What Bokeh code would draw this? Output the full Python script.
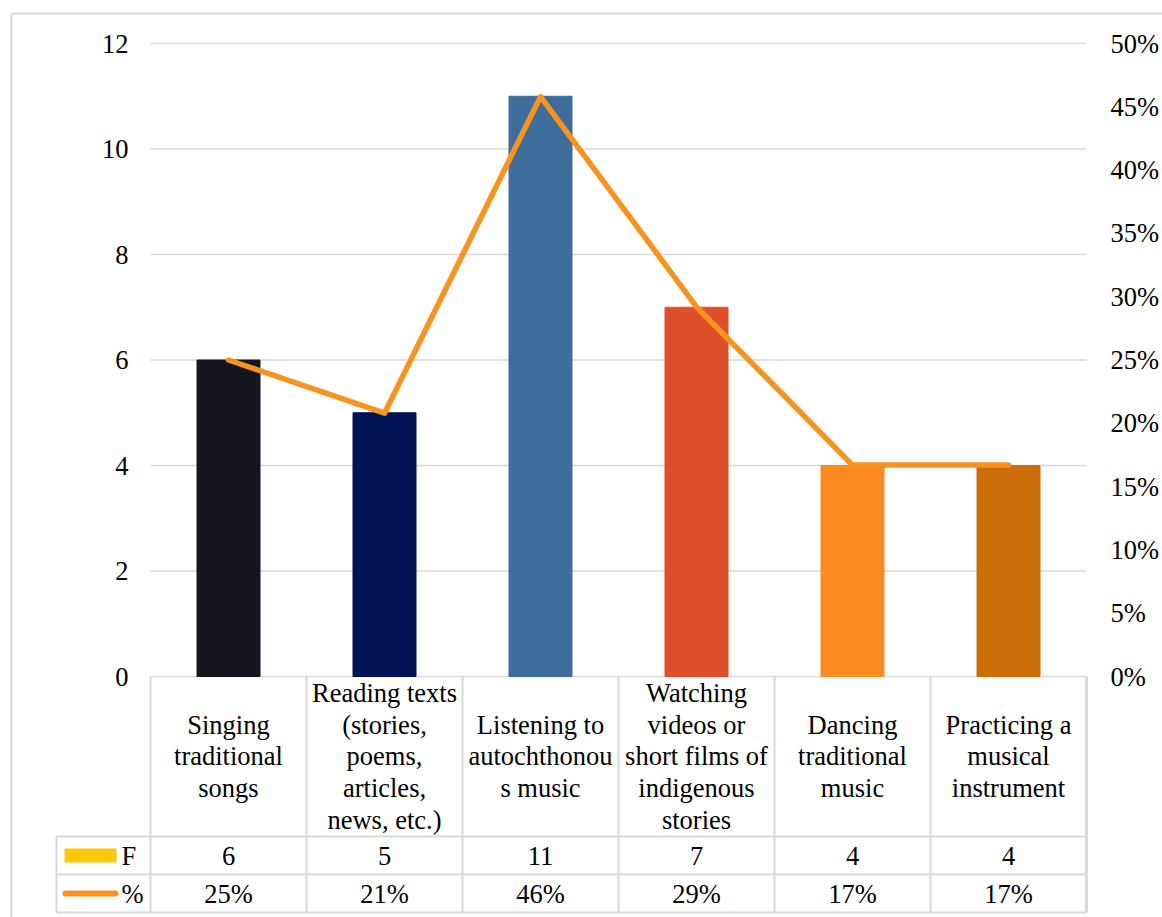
from bokeh.plotting import figure
from bokeh.models import (Range1d, LinearAxis, FixedTicker, NumeralTickFormatter,
                          ColumnDataSource)
from bokeh.core.properties import value
from bokeh.embed import file_html
from bokeh.resources import INLINE

# ---------------- data ----------------
categories = ["Singing traditional songs",
              "Reading texts (stories, poems, articles, news, etc.)",
              "Listening to autochthonous music",
              "Watching videos or short films of indigenous stories",
              "Dancing traditional music",
              "Practicing a musical instrument"]
category_labels = ["Singing\ntraditional\nsongs",
                   "Reading texts\n(stories,\npoems,\narticles,\nnews, etc.)",
                   "Listening to\nautochthonou\ns music",
                   "Watching\nvideos or\nshort films of\nindigenous\nstories",
                   "Dancing\ntraditional\nmusic",
                   "Practicing a\nmusical\ninstrument"]
freq = [6, 5, 11, 7, 4, 4]
pct = [25.0, 20.8, 45.8, 29.2, 16.7, 16.7]
bar_colors = ["#15151F", "#011255", "#3E6C9B", "#E04F2B", "#FD8A22", "#CB6D08"]
left_ticks = [0, 2, 4, 6, 8, 10, 12]
right_ticks = [0, 5, 10, 15, 20, 25, 30, 35, 40, 45, 50]
row_names = ["F", "%"]

# ---------------- layout constants (pixels) ----------------
W, H = 1162, 917
PL, PR, PT = 150, 1086, 43     # plot area left/right/top
Y0 = 676                       # pixel of value 0
n = len(categories)
ppx = (PR - PL) / n
ppy = (Y0 - PT) / max(left_ticks)
ppr = (Y0 - PT) / (max(right_ticks) / 100)

def px2x(px):
    return (px - PL) / ppx

def px2y(py):
    return (Y0 - py) / ppy

def px2r(py):
    return (Y0 - py) / ppr

FONT = "Liberation Serif"
FS = "26.5px"
GRID = "#D9D9D9"

p = figure(width=W, height=H,
           x_range=Range1d(px2x(0), px2x(W)),
           y_range=Range1d(px2y(H), px2y(0)),
           output_backend="svg", toolbar_location=None,
           x_axis_location=None,
           min_border_left=0, min_border_right=0,
           min_border_top=0, min_border_bottom=0)
p.outline_line_color = None
p.background_fill_color = "white"
p.border_fill_color = "white"
p.xgrid.visible = False
p.ygrid.visible = False

def style_axis(a, standoff):
    a.axis_line_color = None
    a.major_tick_line_color = None
    a.minor_tick_line_color = None
    a.major_tick_out = 0
    a.major_tick_in = 0
    a.major_label_standoff = standoff
    a.major_label_text_font = FONT
    a.major_label_text_font_size = FS
    a.major_label_text_color = "black"

ax = p.yaxis[0]
ax.ticker = FixedTicker(ticks=left_ticks)
style_axis(ax, -128)

p.extra_y_ranges = {"pct": Range1d(px2r(H), px2r(0))}
rax = LinearAxis(y_range_name="pct",
                 ticker=FixedTicker(ticks=[t / 100 for t in right_ticks]),
                 formatter=NumeralTickFormatter(format="0%"))
style_axis(rax, -(W - 1110))
p.add_layout(rax, "right")

# outer chart border
p.segment(x0=[px2x(11), px2x(11)], y0=[px2y(13), px2y(13)],
          x1=[px2x(11), px2x(W + 20)], y1=[px2y(H + 20), px2y(13)],
          line_color=GRID, line_width=2)

# horizontal gridlines of the left axis
p.segment(x0=[0] * len(left_ticks), y0=left_ticks, x1=[n] * len(left_ticks), y1=left_ticks,
          line_color=GRID, line_width=1.5)

centers = [i + 0.5 for i in range(n)]
src = ColumnDataSource(dict(x=centers, f=freq, pf=[v / 100 for v in pct],
                            color=bar_colors, lab=category_labels,
                            ftxt=[str(v) for v in freq],
                            ptxt=[f"{round(v)}%" for v in pct]))

# bars
p.vbar(x="x", top="f", width=63 / ppx, color="color", source=src)

# percentage line
p.line(x="x", y="pf", y_range_name="pct", source=src, line_color="#F7931E",
       line_width=5.5, line_cap="round", line_join="round")

# ---------------- data table ----------------
ROW_CAT_BOTTOM = 836
ROW_F_BOTTOM = 874
ROW_P_BOTTOM = 912
LEFT_COL = 56

vx = [i for i in range(n + 1)]
p.segment(x0=vx, y0=[0] * len(vx), x1=vx, y1=[px2y(ROW_P_BOTTOM)] * len(vx),
          line_color=GRID, line_width=[2] * n + [3])
p.segment(x0=[px2x(LEFT_COL)], y0=[px2y(ROW_CAT_BOTTOM)], x1=[px2x(LEFT_COL)],
          y1=[px2y(ROW_P_BOTTOM)], line_color=GRID, line_width=2)
hy = [px2y(ROW_CAT_BOTTOM), px2y(ROW_F_BOTTOM), px2y(ROW_P_BOTTOM)]
p.segment(x0=[px2x(LEFT_COL)] * 3, y0=hy, x1=[n] * 3, y1=hy, line_color=GRID, line_width=2)

p.text(x="x", y=px2y((Y0 + ROW_CAT_BOTTOM) / 2), text="lab", source=src,
       text_align="center", text_baseline="middle", text_font=value(FONT),
       text_font_size=FS, text_line_height=1.06, text_color="black")
p.text(x="x", y=px2y((ROW_CAT_BOTTOM + ROW_F_BOTTOM) / 2), text="ftxt", source=src,
       text_align="center", text_baseline="middle", text_font=value(FONT),
       text_font_size=FS, text_color="black")
p.text(x="x", y=px2y((ROW_F_BOTTOM + ROW_P_BOTTOM) / 2), text="ptxt", source=src,
       text_align="center", text_baseline="middle", text_font=value(FONT),
       text_font_size=FS, text_color="black")

# legend keys in the header column
p.quad(left=[px2x(64)], right=[px2x(116)], top=[px2y(848)], bottom=[px2y(862)],
       fill_color="#FFC90A", line_color=None)
p.line(x=[px2x(65), px2x(115)], y=[px2y(893), px2y(893)], line_color="#F7931E",
       line_width=6, line_cap="round")
row_mid = [px2y((ROW_CAT_BOTTOM + ROW_F_BOTTOM) / 2), px2y((ROW_F_BOTTOM + ROW_P_BOTTOM) / 2)]
p.text(x=[px2x(121)] * 2, y=row_mid, text=row_names, text_align="left",
       text_baseline="middle", text_font=value(FONT), text_font_size=FS,
       text_color="black")

open("out.html", "w").write(file_html(p, INLINE))
